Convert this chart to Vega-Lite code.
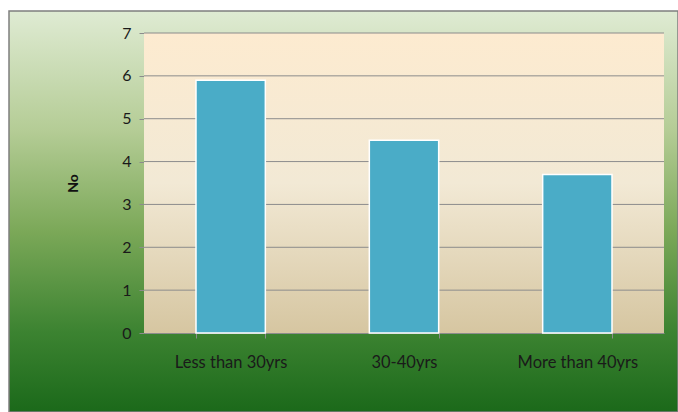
{
  "$schema": "https://vega.github.io/schema/vega-lite/v6.json",
  "width": 669,
  "height": 401,
  "autosize": {"type": "none"},
  "padding": {"left": 9, "top": 11, "right": 0, "bottom": 0},
  "background": "#ffffff",
  "config": {
    "font": "Lato",
    "view": {
      "fill": {
        "gradient": "linear",
        "x1": 0, "y1": 0, "x2": 0, "y2": 1,
        "stops": [
          {"offset": 0, "color": "#dfebd3"},
          {"offset": 0.3, "color": "#b4cc95"},
          {"offset": 0.55, "color": "#7ba858"},
          {"offset": 0.8, "color": "#3c8331"},
          {"offset": 1, "color": "#1b691a"}
        ]
      },
      "stroke": "#7f7f7f",
      "strokeWidth": 1.5
    }
  },
  "layer": [
    {
      "data": {"values": [{}]},
      "mark": {
        "type": "rect",
        "fill": {
          "gradient": "linear",
          "x1": 0, "y1": 0, "x2": 0, "y2": 1,
          "stops": [
            {"offset": 0, "color": "#fdebd0"},
            {"offset": 0.5, "color": "#f2e9d5"},
            {"offset": 1, "color": "#d6c6a1"}
          ]
        }
      },
      "encoding": {
        "x": {"datum": 0, "type": "quantitative", "scale": {"domain": [0, 1], "range": [135, 655]}, "axis": null},
        "x2": {"datum": 1},
        "y": {"datum": 0, "type": "quantitative"},
        "y2": {"datum": 7}
      }
    },
    {
      "data": {"values": [{"v": 1}, {"v": 2}, {"v": 3}, {"v": 4}, {"v": 5}, {"v": 6}, {"v": 7}]},
      "mark": {"type": "rule", "color": "#8c8c8c", "strokeWidth": 1},
      "encoding": {
        "x": {"datum": 0, "type": "quantitative", "scale": {"domain": [0, 1], "range": [135, 655]}, "axis": null},
        "x2": {"datum": 1},
        "y": {"field": "v", "type": "quantitative"}
      }
    },
    {
      "data": {
        "values": [
          {"group": "Less than 30yrs", "No": 5.9},
          {"group": "30-40yrs", "No": 4.5},
          {"group": "More than 40yrs", "No": 3.7}
        ]
      },
      "mark": {"type": "bar", "fill": "#4aacc7", "stroke": "#ffffff", "strokeWidth": 1.5},
      "encoding": {
        "x": {
          "field": "group",
          "type": "nominal",
          "sort": null,
          "scale": {"range": [135, 655], "paddingInner": 0.6, "paddingOuter": 0.3},
          "axis": {
            "title": null,
            "offset": -79,
            "labelAngle": 0,
            "labelFontSize": 16.5,
            "labelColor": "#1a1a1a",
            "labelPadding": 16,
            "tickBand": "extent",
            "tickSize": 5,
            "tickColor": "#8c8c8c",
            "domainColor": "#8c8c8c",
            "grid": false
          }
        },
        "y": {
          "field": "No",
          "type": "quantitative",
          "scale": {"domain": [0, 7], "range": [322, 22], "nice": false},
          "axis": {
            "values": [0, 1, 2, 3, 4, 5, 6, 7],
            "format": "d",
            "offset": -135,
            "grid": false,
            "labelFontSize": 16,
            "labelColor": "#1a1a1a",
            "labelPadding": 8,
            "tickSize": 5,
            "tickColor": "#8c8c8c",
            "domainColor": "#8c8c8c",
            "title": "No",
            "titleFontSize": 14,
            "titleFontWeight": "bold",
            "titleColor": "#111111",
            "titlePadding": 41
          }
        }
      }
    }
  ],
  "resolve": {"scale": {"x": "independent"}}
}
